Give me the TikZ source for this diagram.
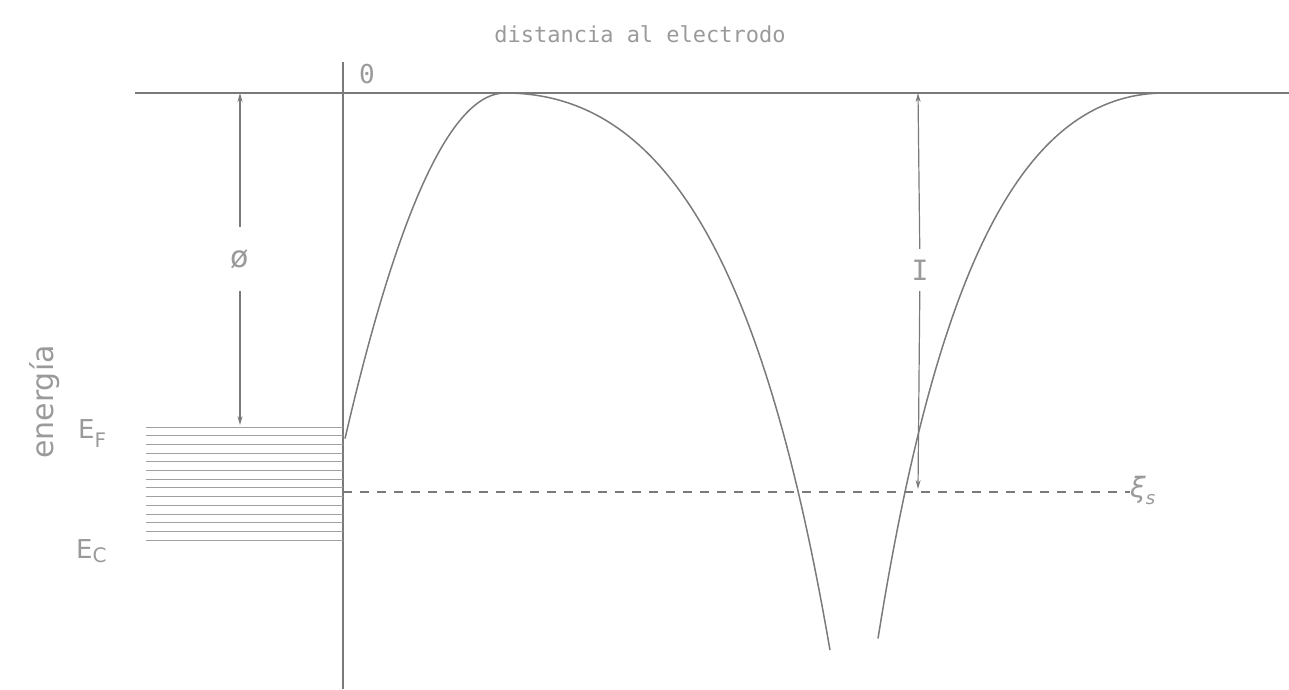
\documentclass[tikz,border=0pt]{standalone}
\usepackage{fontspec}
\newfontfamily\twfont{DejaVu Sans Mono}
\newfontfamily\sffont{DejaVu Sans}
\usetikzlibrary{arrows.meta}
\definecolor{ink}{HTML}{7A7A7A}
\definecolor{txt}{HTML}{9A9A9A}
\definecolor{band}{HTML}{A0A0A0}
\begin{document}
\begin{tikzpicture}[x=1pt,y=-1pt,
  axisline/.style={draw=ink,line width=1.2pt},
  curveline/.style={draw=ink,line width=1.5pt,line join=round},
  bandline/.style={draw=band,line width=1pt},
  levelline/.style={draw=ink,line width=1.3pt,dash pattern=on 9pt off 8pt},
  arr/.style={draw=ink,line width=1.2pt,-{Stealth[length=9pt,width=5pt]}},
  lbl/.style={text=txt,font=\twfont\fontsize{22}{26}\selectfont,inner sep=0pt}]
\useasboundingbox (0,0) rectangle (1289,689);
% axes
\coordinate (tl) at (135,93);
\coordinate (tr) at (1289,93);
\coordinate (at) at (343,62);
\coordinate (ab) at (343,689);
\draw[axisline] (tl) -- (tr);
\draw[axisline] (at) -- (ab);
% labels
\node[lbl] (title) at (640,34) {distancia al electrodo};
\node[lbl,font=\twfont\fontsize{26}{30}\selectfont] (zero) at (367,74) {0};
\node[lbl,rotate=90,font=\sffont\fontsize{30}{34}\selectfont] (energia) at (45,402) {energía};
\node[lbl,font=\sffont\fontsize{26}{30}\selectfont,anchor=west] (ef) at (78,434) {E\raisebox{-9pt}{\fontsize{20}{24}\selectfont F}};
\node[lbl,font=\sffont\fontsize{26}{30}\selectfont,anchor=west] (ec) at (76,551) {E\raisebox{-4pt}{\fontsize{20}{24}\selectfont C}};
% bands
\foreach \y in {427,435.7,444.4,453.1,461.8,470.5,479.2,487.9,496.6,505.3,514,522.7,531.4,540}
  \draw[bandline] (146,\y) -- (343,\y);
% phi arrow
\node[lbl,minimum height=64pt,font=\sffont\fontsize{30}{34}\selectfont] (phi) at (240,259) {ø};
\coordinate (phitop) at (240,93);
\coordinate (phibot) at (240,425);
\draw[arr] (phi) -- (phitop);
\draw[arr] (phi) -- (phibot);
% I arrow
\node[lbl,minimum height=42pt,font=\twfont\fontsize{28}{32}\selectfont] (ii) at (920,270) {I};
\coordinate (itop) at (918,93);
\coordinate (ibot) at (918,489);
\draw[arr] (ii) -- (itop);
\draw[arr] (ii) -- (ibot);
% xi_s level
\coordinate (ls) at (343,492);
\node[lbl,font=\sffont\fontsize{28}{32}\selectfont,anchor=west] (xis) at (1130,490) {\textit{ξ}\raisebox{-7pt}{\fontsize{18}{22}\selectfont\textit{s}}};
\draw[levelline] (ls) -- (ls -| xis.west);
% curve 1
\draw[curveline] plot[domain=-1.6:0,samples=60] ({505+100*\x},{93+135*\x*\x})
  -- plot[domain=0:3.25,samples=90] ({505+100*\x},{93+22*\x*\x/(1-\x/5.575)});
% curve 2
\draw[curveline] plot[domain=2.87:0,samples=90] ({1165-100*\x},{93+28.8*\x*\x/(1-\x/5.079)});
\end{tikzpicture}
\end{document}
